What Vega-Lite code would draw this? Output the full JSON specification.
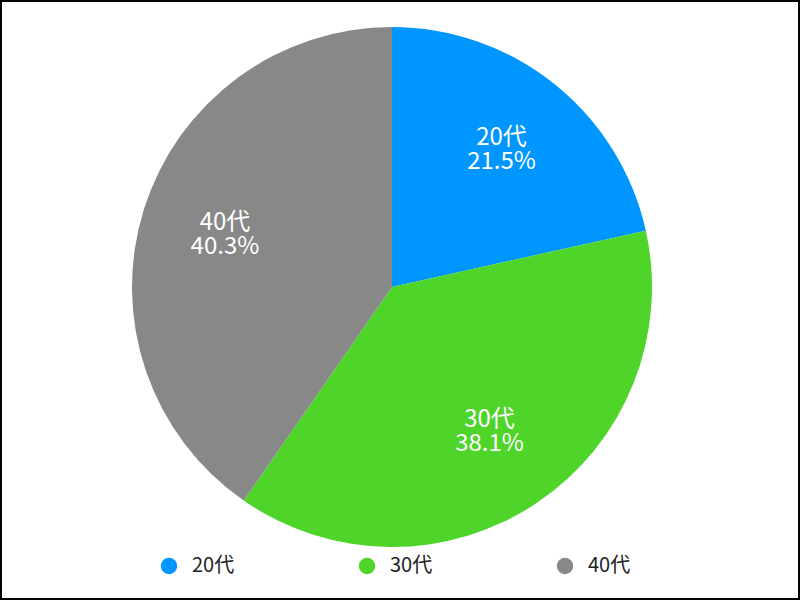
{
  "$schema": "https://vega.github.io/schema/vega-lite/v6.json",
  "width": 800,
  "height": 600,
  "autosize": {"type": "fit", "contains": "padding"},
  "padding": 0,
  "background": "white",
  "view": {"stroke": "black", "strokeWidth": 4},
  "config": {
    "view": {"stroke": "black", "strokeWidth": 4},
    "font": "Noto Sans CJK JP"
  },
  "data": {
    "values": [
      {"age": "20代", "share": 0.215, "rank": 1},
      {"age": "30代", "share": 0.381, "rank": 2},
      {"age": "40代", "share": 0.403, "rank": 3}
    ]
  },
  "encoding": {
    "theta": {"field": "share", "type": "quantitative", "stack": true},
    "order": {"field": "rank", "type": "quantitative"}
  },
  "layer": [
    {
      "mark": {"type": "arc", "outerRadius": 260, "x": {"expr": "width/2 - 8"}, "y": {"expr": "height/2 - 13"}},
      "encoding": {
        "color": {
          "field": "age",
          "type": "nominal",
          "scale": {"domain": ["20代", "30代", "40代"], "range": ["#0096FF", "#4FD42A", "#888888"]},
          "legend": {
            "title": null,
            "orient": "none",
            "direction": "horizontal",
            "legendX": 159,
            "legendY": 556,
            "symbolType": "circle",
            "symbolSize": 270,
            "symbolStrokeWidth": 0,
            "labelFontSize": 20,
            "labelColor": "#222222",
            "labelOffset": 13,
            "columnPadding": 122,
            "labelFont": "Noto Sans CJK JP"
          }
        }
      }
    },
    {
      "mark": {"type": "text", "radius": 175, "fontSize": 24, "color": "white", "dy": -12, "x": {"expr": "width/2 - 8"}, "y": {"expr": "height/2 - 13"}},
      "encoding": {"text": {"field": "age", "type": "nominal"}}
    },
    {
      "mark": {"type": "text", "radius": 175, "fontSize": 24, "color": "white", "dy": 12, "x": {"expr": "width/2 - 8"}, "y": {"expr": "height/2 - 13"}},
      "encoding": {"text": {"field": "share", "type": "quantitative", "format": ".1%"}}
    }
  ]
}
